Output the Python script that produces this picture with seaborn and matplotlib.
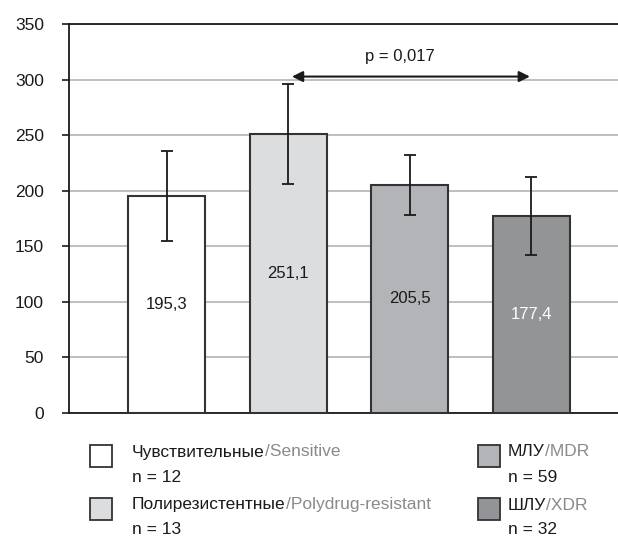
import matplotlib
matplotlib.use("Agg")
import matplotlib.pyplot as plt
from matplotlib.patches import Rectangle
import seaborn as sns
import pandas as pd

# Group data
groups_ru = ["Чувствительные", "Полирезистентные", "МЛУ", "ШЛУ"]
groups_en = ["Sensitive", "Polydrug-resistant", "MDR", "XDR"]
group_n = [12, 13, 59, 32]
means = [195.3, 251.1, 205.5, 177.4]
errors = [40.5, 45.0, 27.0, 35.0]
bar_colors = ["#ffffff", "#dcdddf", "#b3b4b7", "#939497"]
label_colors = ["#1a1a1a", "#1a1a1a", "#1a1a1a", "#ffffff"]
y_ticks = [0, 50, 100, 150, 200, 250, 300, 350]
p_text = "p = 0,017"
p_pair = (1, 3)

sns.set_theme(style="white")
plt.rcParams["font.family"] = ["Liberation Sans", "DejaVu Sans"]

W, H = 618, 538
fig = plt.figure(figsize=(W / 100, H / 100), dpi=100)
ax = fig.add_axes([69 / W, 1 - 413 / H, 1 - 69 / W, (413 - 24) / H])

df = pd.DataFrame({"group": groups_ru, "value": means})
sns.barplot(data=df, x="group", y="value", hue="group",
            palette=dict(zip(groups_ru, bar_colors)), legend=False,
            width=0.634, edgecolor="#333333", linewidth=1.5, ax=ax,
            zorder=3)

ax.errorbar(range(len(means)), means, yerr=errors, fmt="none",
            ecolor="#1a1a1a", elinewidth=1.3, capsize=4, capthick=1.3,
            zorder=4)

for i, (m, c) in enumerate(zip(means, label_colors)):
    ax.text(i, m / 2, f"{m:.1f}".replace(".", ","), ha="center",
            va="center", fontsize=12, color=c, zorder=5)

ax.set_xlim(-0.807, 3.716)
ax.set_ylim(0, 350)
ax.set_yticks(y_ticks)
ax.set_yticklabels([str(t) for t in y_ticks], fontsize=12.5, color="#1a1a1a")
ax.set_xticks([])
ax.set_xlabel("")
ax.set_ylabel("")
ax.yaxis.grid(True, color="#b4b4b4", linewidth=1.2, zorder=0)
ax.set_axisbelow(True)
ax.tick_params(axis="y", which="both", left=True, length=5, width=1.2,
               color="#1a1a1a", pad=13)

for side in ["left", "bottom", "top"]:
    ax.spines[side].set_visible(True)
    ax.spines[side].set_color("#1a1a1a")
    ax.spines[side].set_linewidth(1.3)
ax.spines["right"].set_visible(False)

# Significance arrow
ax.annotate("", xy=(p_pair[1] - 0.01, 302.7), xytext=(p_pair[0] + 0.03, 302.7),
            arrowprops=dict(arrowstyle="<|-|>", color="#1a1a1a", lw=1.5,
                            mutation_scale=16, shrinkA=0, shrinkB=0),
            zorder=6)
ax.text((p_pair[0] + p_pair[1]) / 2 - 0.08, 320.5, p_text, ha="center",
        va="center", fontsize=12, color="#1a1a1a")

# Legend drawn in figure pixels
fig.canvas.draw()
renderer = fig.canvas.get_renderer()
legend_pos = [(90, 445, 132, 452, 477), (90, 498, 132, 505, 530),
              (478, 445, 508, 452, 477), (478, 498, 508, 505, 530)]
for k, (sx, sy, tx, ty1, ty2) in enumerate(legend_pos):
    fig.patches.append(Rectangle((sx / W, 1 - (sy + 22) / H), 22 / W, 22 / H,
                                 transform=fig.transFigure,
                                 facecolor=bar_colors[k], edgecolor="#333333",
                                 linewidth=1.3))
    t1 = fig.text(tx / W, 1 - ty1 / H, groups_ru[k], ha="left", va="center",
                  fontsize=12.5, color="#1a1a1a")
    bb = t1.get_window_extent(renderer)
    fig.text(bb.x1 / W, 1 - ty1 / H, "/" + groups_en[k], ha="left",
             va="center", fontsize=12.5, color="#8a8a8a")
    fig.text(tx / W, 1 - ty2 / H, f"n = {group_n[k]}", ha="left",
             va="center", fontsize=12.5, color="#1a1a1a")

fig.savefig("out.png", dpi=100)
